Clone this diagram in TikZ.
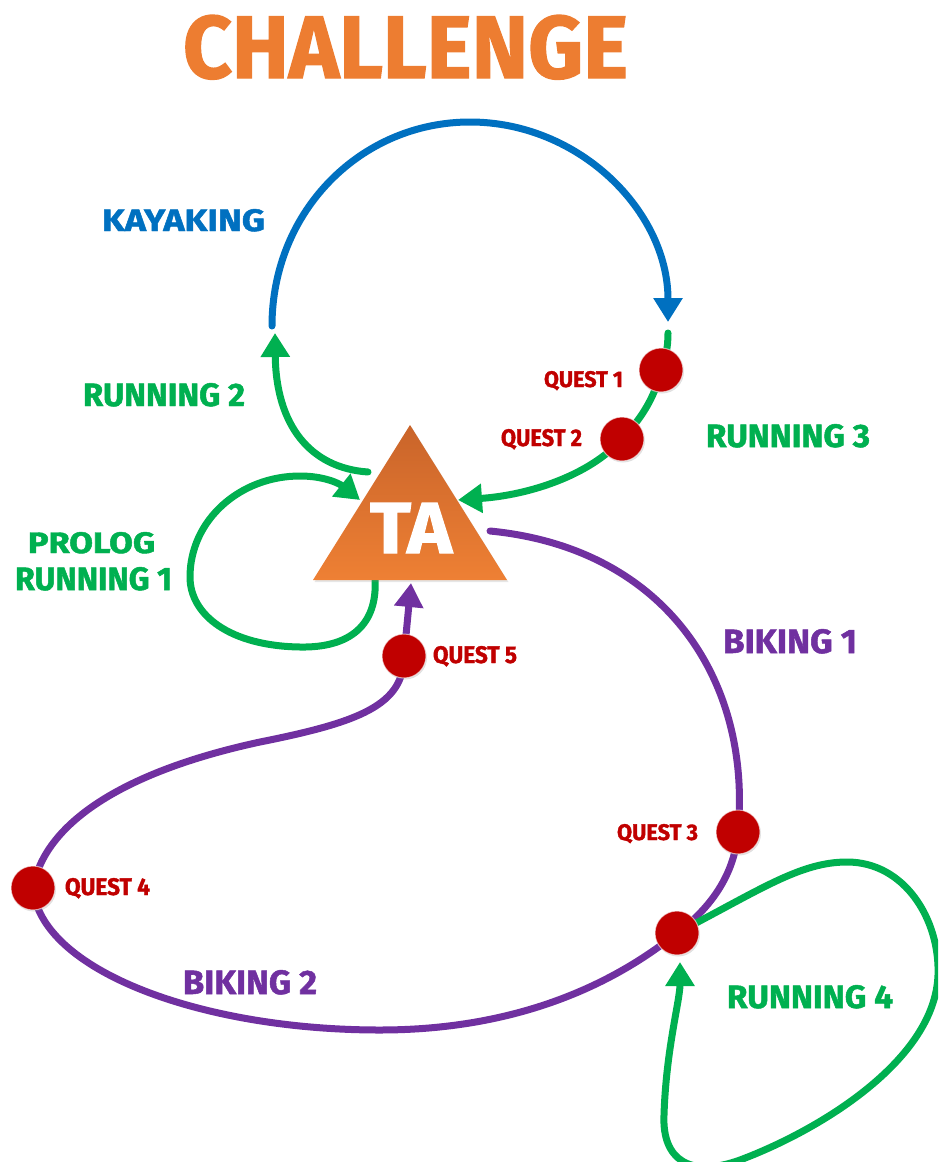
\documentclass[tikz,border=0pt]{standalone}
\usepackage{fontspec}
\setmainfont{Fira Sans}[BoldFeatures={FakeBold=1.5}]
\usepackage{graphicx}
\usetikzlibrary{arrows.meta,shadows}
\definecolor{cblue}{HTML}{0070C0}
\definecolor{cgreen}{HTML}{00B050}
\definecolor{cpurple}{HTML}{7030A0}
\definecolor{cred}{HTML}{C00000}
\definecolor{corange}{HTML}{ED7D31}
\definecolor{taTop}{HTML}{C9642A}
\definecolor{taBot}{HTML}{EE8034}
\newcommand\fitlbl[3]{\resizebox{#1pt}{#2pt}{\bfseries #3}}
\begin{document}
\begin{tikzpicture}[x=1pt,y=-1pt,
  conn/.style={line width=7pt, line cap=round},
  tipped/.style={-{Triangle[length=24pt 0 0,width=28pt 0 0]}},
  dot/.style={circle, minimum size=44pt, inner sep=0pt, fill=cred, draw=white, draw opacity=0.6, line width=1pt,
    drop shadow={opacity=0.25, shadow xshift=1pt, shadow yshift=-1.5pt}},
  lbl/.style={anchor=base west, inner sep=0pt, outer sep=0pt}]
\useasboundingbox (0,0) rectangle (938,1162);
\clip (0,0) rectangle (938,1162);

% coordinates
\coordinate (kS) at (272,326);
\coordinate (kE) at (668,322);
\coordinate (r2S) at (368,472);
\coordinate (r2E) at (275,333);
\coordinate (r3S) at (668,333);
\coordinate (r3E) at (458,500);
\coordinate (p1S) at (375,578);
\coordinate (p1E) at (360,500);
\coordinate (b1S) at (490,531);
\coordinate (b2E) at (411,583);
\coordinate (r4E) at (680,962);

% dot positions
\path (661,370) coordinate (q1c) (622,439) coordinate (q2c) (738,832) coordinate (q3c)
      (33,888) coordinate (q4c) (404,656) coordinate (q5c) (677,933) coordinate (q6c);

% Kayaking
\draw[conn, cblue, tipped] (kS) .. controls (272,211) and (361,122) .. (470,122)
  .. controls (579,122) and (668,211) .. (kE);
% Running 2
\draw[conn, cgreen, tipped] (r2S) .. controls (310,468) and (276,425) .. (r2E);
% Running 3
\draw[conn, cgreen, tipped] (r3S) .. controls (668,350) and (665,358) .. (q1c)
  .. controls (655,398) and (640,420) .. (q2c)
  .. controls (590,475) and (530,495) .. (r3E);
% Prolog / Running 1
\draw[conn, cgreen, tipped] (p1S) .. controls (378,625) and (350,648) .. (300,647)
  .. controls (230,646) and (190,615) .. (190,577)
  .. controls (190,520) and (240,476) .. (300,476)
  .. controls (325,476) and (340,484) .. (p1E);
% Biking 1 and 2
\draw[conn, cpurple, tipped] (b1S) .. controls (665,548) and (752,680) .. (q3c)
  .. controls (735,870) and (715,905) .. (q6c)
  .. controls (600,995) and (500,1030) .. (380,1030)
  .. controls (200,1030) and (40,970) .. (q4c)
  .. controls (45,820) and (130,770) .. (260,742)
  .. controls (360,722) and (404,705) .. (q5c)
  -- (b2E);
% Running 4
\draw[conn, cgreen, tipped] (q6c) .. controls (760,890) and (800,862) .. (847,862)
  .. controls (905,862) and (940,920) .. (938,975)
  .. controls (935,1060) and (820,1130) .. (740,1160)
  .. controls (690,1178) and (662,1160) .. (664,1115)
  .. controls (666,1050) and (680,1000) .. (r4E);

% Triangle TA
\path[shade, top color=taTop, bottom color=taBot,
  drop shadow={opacity=0.2, shadow xshift=1.5pt, shadow yshift=-2pt}]
  (410,425) -- (507,580) -- (313,580) -- cycle;
\node[lbl, text=white] (ta) at (370,553) {\fitlbl{82}{50}{TA}};

% dots
\node[dot] (q1) at (q1c) {};
\node[dot] (q2) at (q2c) {};
\node[dot] (q3) at (q3c) {};
\node[dot] (q4) at (q4c) {};
\node[dot] (q5) at (q5c) {};
\node[dot] (q6) at (q6c) {};

% labels
\node[lbl, text=corange] (title) at (183,78) {\fitlbl{445}{63}{CHALLENGE}};
\node[lbl, text=cblue] (lkay) at (102,231) {\fitlbl{163}{22}{KAYAKING}};
\node[lbl, text=cgreen] (lr2) at (83,406) {\fitlbl{162}{23}{RUNNING 2}};
\node[lbl, text=cgreen] (lr3) at (706,447) {\fitlbl{164}{23}{RUNNING 3}};
\node[lbl, text=cgreen] (lpro) at (28,553) {\fitlbl{127}{21}{PROLOG}};
\node[lbl, text=cgreen] (lr1) at (15,590) {\fitlbl{157}{23}{RUNNING 1}};
\node[lbl, text=cgreen] (lr4) at (727,1008) {\fitlbl{166}{23}{RUNNING 4}};
\node[lbl, text=cpurple] (lb1) at (723,653) {\fitlbl{134}{24}{BIKING 1}};
\node[lbl, text=cpurple] (lb2) at (183,994) {\fitlbl{134}{24}{BIKING 2}};
\node[lbl, text=cred] (lq1) at (544,387) {\fitlbl{79}{16}{QUEST 1}};
\node[lbl, text=cred] (lq2) at (501,446) {\fitlbl{81}{17}{QUEST 2}};
\node[lbl, text=cred] (lq3) at (617,840) {\fitlbl{81}{16}{QUEST 3}};
\node[lbl, text=cred] (lq4) at (65,895) {\fitlbl{85}{17}{QUEST 4}};
\node[lbl, text=cred] (lq5) at (433,663) {\fitlbl{84}{17}{QUEST 5}};
\end{tikzpicture}
\end{document}
